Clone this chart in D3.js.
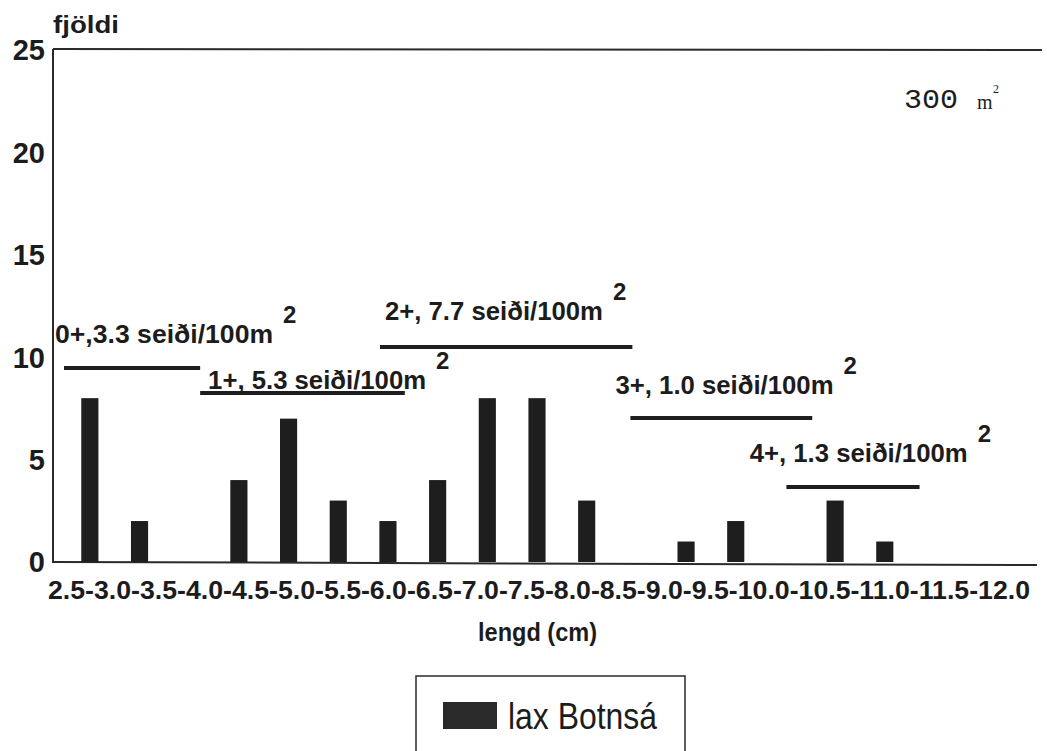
<!DOCTYPE html>
<html>
<head>
<meta charset="utf-8">
<script src="https://cdn.jsdelivr.net/npm/d3@7"></script>
<style>
  body { margin: 0; background: #fff; }
  svg { display: block; }
  text { font-family: "Liberation Sans", Arial, sans-serif; fill: #1c1c1c; }
</style>
</head>
<body>
<svg id="chart" width="1047" height="751"></svg>
<script>
// ---- data ----
const binEdges = ["2.5","3.0","3.5","4.0","4.5","5.0","5.5","6.0","6.5","7.0","7.5","8.0","8.5","9.0","9.5","10.0","10.5","11.0","11.5","12.0"];
const categories = binEdges.slice(0, -1).map((e, i) => e + "-" + binEdges[i + 1]);
const counts = [8, 2, 0, 4, 7, 3, 2, 4, 8, 8, 3, 0, 1, 2, 0, 3, 1, 0, 0];
const yTicks = [0, 5, 10, 15, 20, 25];
const seriesName = "lax Botnsá";
const yTitle = "fjöldi";
const xTitle = "lengd (cm)";
const areaNote = "300";
// age-group density annotations: length range (cm) and level (count units)
const ageLabels = ["0+,3.3 seiði/100m", "1+, 5.3 seiði/100m", "2+, 7.7 seiði/100m", "3+, 1.0 seiði/100m", "4+, 1.3 seiði/100m"];
const ageFrom  = [2.49, 3.86, 5.67, 8.19, 9.76];
const ageTo    = [3.86, 5.92, 8.21, 10.02, 11.10];
const ageLevel = [9.47, 8.25, 10.5, 7.03, 3.66];
const labelX   = [2.40, 3.94, 5.72, 8.04, 9.39];
const labelY   = [10.69, 8.45, 11.82, 8.20, 4.88];

// ---- scales ----
const svg = d3.select("#chart");
const x = d3.scaleBand().domain(categories).range([65, 1009]).paddingInner(0.655).paddingOuter(0.3275);
const xLen = d3.scaleLinear().domain([+binEdges[0], +binEdges[binEdges.length - 1]]).range([65, 1009]);
const y = d3.scaleLinear().domain([0, 25]).range([562, 50]);

const ink = "#1e1e1e";

// frame: left axis, top line, bottom line
svg.append("line").attr("x1", 53).attr("x2", 53).attr("y1", 49).attr("y2", 563)
  .attr("stroke", "#2a2a2a").attr("stroke-width", 2);
svg.append("line").attr("x1", 53).attr("x2", 1042).attr("y1", y(25) - 1).attr("y2", y(25))
  .attr("stroke", "#2a2a2a").attr("stroke-width", 2);
svg.append("line").attr("x1", 53).attr("x2", 1037).attr("y1", y(0)).attr("y2", y(0) + 3)
  .attr("stroke", "#2a2a2a").attr("stroke-width", 2);

// y tick labels
svg.append("g").selectAll("text").data(yTicks).join("text")
  .attr("x", 45).attr("y", d => y(d)).attr("dy", "0.36em")
  .attr("text-anchor", "end").attr("font-size", 29).attr("font-weight", "bold")
  .text(d => d);

// y title
svg.append("text").attr("x", 53).attr("y", 33).attr("font-size", 23).attr("font-weight", "bold")
  .attr("textLength", 66).attr("lengthAdjust", "spacingAndGlyphs").text(yTitle);

// bars
svg.append("g").selectAll("rect").data(categories).join("rect")
  .attr("x", d => x(d)).attr("width", x.bandwidth())
  .attr("y", (d, i) => y(counts[i])).attr("height", (d, i) => y(0) - y(counts[i]))
  .attr("fill", ink);

// x tick labels as one continuous string
svg.append("text").attr("x", 48).attr("y", 599)
  .attr("font-size", 26).attr("font-weight", "bold")
  .attr("textLength", 982).attr("lengthAdjust", "spacingAndGlyphs")
  .text(binEdges.join("-"));

// x title
svg.append("text").attr("x", 478).attr("y", 641).attr("font-size", 25).attr("font-weight", "bold")
  .attr("textLength", 119).attr("lengthAdjust", "spacingAndGlyphs").text(xTitle);

// age-group annotations
const ann = svg.append("g");
ageLabels.forEach((lab, i) => {
  ann.append("line")
    .attr("x1", xLen(ageFrom[i])).attr("x2", xLen(ageTo[i]))
    .attr("y1", y(ageLevel[i])).attr("y2", y(ageLevel[i]))
    .attr("stroke", ink).attr("stroke-width", 4);
  const tx = xLen(labelX[i]), ty = y(labelY[i]);
  ann.append("text").attr("x", tx).attr("y", ty)
    .attr("font-size", 26).attr("font-weight", "bold")
    .attr("textLength", 218).attr("lengthAdjust", "spacingAndGlyphs").text(lab);
  ann.append("text").attr("x", tx + 218 + 10).attr("y", ty - 20)
    .attr("font-size", 24).attr("font-weight", "bold").text("2");
});

// area note "300 m²"
svg.append("text").attr("x", 904).attr("y", 108)
  .style("font-family", "'Liberation Mono', 'DejaVu Sans Mono', monospace")
  .attr("font-size", 28).attr("textLength", 54).attr("lengthAdjust", "spacingAndGlyphs").text(areaNote);
svg.append("text").attr("x", 977).attr("y", 109)
  .style("font-family", "'Liberation Serif', serif").attr("font-size", 20).text("m");
svg.append("text").attr("x", 993).attr("y", 93)
  .style("font-family", "'Liberation Serif', serif").attr("font-size", 12).text("2");

// legend
const lg = svg.append("g");
lg.append("rect").attr("x", 416).attr("y", 676).attr("width", 269).attr("height", 110)
  .attr("fill", "none").attr("stroke", "#2a2a2a").attr("stroke-width", 1.5);
lg.append("rect").attr("x", 443).attr("y", 702).attr("width", 54).attr("height", 27).attr("fill", "#2a2a2a");
lg.append("text").attr("x", 508).attr("y", 729).attr("font-size", 36)
  .attr("textLength", 149).attr("lengthAdjust", "spacingAndGlyphs").text(seriesName);
</script>
</body>
</html>
